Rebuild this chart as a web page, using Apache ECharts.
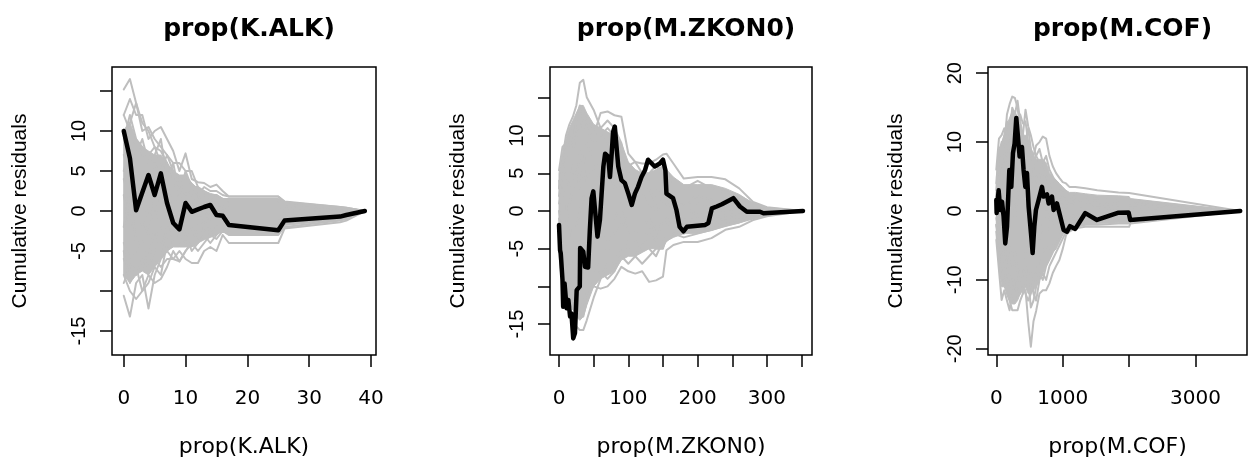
<!DOCTYPE html>
<html>
<head>
<meta charset="utf-8">
<script src="https://cdn.jsdelivr.net/npm/echarts@6/dist/echarts.min.js"></script>
<style>html,body{margin:0;padding:0;background:#fff;}#c{width:1248px;height:467px;}</style>
</head>
<body>
<div id="c"></div>
<script>
// ---------- Panel 1: prop(K.ALK) ----------
const titleK = 'prop(K.ALK)';
const xK = [0,1,2,3,4,5,6,7,8,9,10,11,12,13,14,15,16,17,25,26,35,36,39];
const obsK = [10,6.6,0.1,2.3,4.5,2.0,4.7,1.0,-1.5,-2.3,1.0,-0.1,0.2,0.5,0.75,-0.5,-0.6,-1.75,-2.4,-1.2,-0.7,-0.5,0];
const coreUpK = [10,11,9,8,7.5,7,7,6,5,4.5,4.5,3.5,2.8,2.5,2.2,2,1.6,1.3,1.3,1,0.4,0.3,0];
const coreLoK = [-8,-9,-8,-7.5,-8,-7,-6,-5,-4.5,-4.5,-4.5,-4.5,-4,-3.6,-3.3,-3,-2.5,-3,-3,-1.8,-1.1,-0.9,0];
const simK = [
  [15.2,16.5,13.5,11,10,8,7.5,6,4,3,3,2,1.5,1,1,0.8,0.5,0.5,0.5,0.4,0.2,0.1,0],
  [12,14,12,12,9,10,10.5,9,7.5,5,7.2,4,3.6,3.5,3,3.3,2.5,1.8,1.8,1.2,0.5,0.4,0],
  [10,11,13.5,10,10.5,9,8,7,6,6,5,5,3,2.5,2,2,1.5,1.5,1.5,1,0.4,0.3,0],
  [9,12,9,8,7,8,6,5,5,4,4.5,3,2,3,2.5,2.5,2,1.8,1.8,1.1,0.5,0.4,0],
  [-10.6,-13.2,-9,-8,-12.2,-8,-6,-5,-4,-4,-3,-3,-2,-1.5,-1,-1,-0.8,-1,-1,-0.6,-0.4,-0.3,0],
  [-8,-10,-11,-10,-8,-9,-8.5,-7,-5,-6.3,-5,-4,-3,-2.5,-2,-2,-1.5,-1.8,-1.8,-1,-0.5,-0.4,0],
  [-6,-8,-6,-7,-5,-6,-7,-6,-6,-5,-6,-6.5,-6.5,-5,-4.5,-5,-3,-4,-4,-2.2,-1.4,-1.2,0],
  [-4,-6,-8,-6,-7,-5,-4,-5,-6,-6.3,-5,-4,-5,-4,-3,-3.5,-2.5,-3,-3,-2,-1.2,-1,0],
  [5,8,6,4,3,4,2,3,1,2,0,1,-1,0,-0.5,0,-0.5,0,0,0,0,0,0],
  [2,-2,3,5,2,0,3,1,-2,0,1,-1,-2,-1,0,-1,-1,-1,-1,-0.5,-0.3,-0.2,0],
  [-2,2,-4,-1,-3,1,-2,-3,0,-2,-1,0,1,0,-1,-0.5,0,0.5,0.5,0.3,0.2,0.1,0],
  [7,5,9,7,4,6,4,6,3,4,2,2,1,1.5,0,1,0.5,1,1,0.6,0.3,0.2,0],
  [-9,-7,-5,-3,-6,-2,-5,-2,-4,-3,-4,-2,-4,-2,-3,-2,-2,-2,-2,-1.5,-0.8,-0.6,0],
  [12,10,7,9,6,7,9,4,6,2,5,3,2,0,1,-1,0,-0.5,-0.5,-0.3,-0.2,-0.1,0],
  [-5,-9,-7,-10,-9,-7,-8,-4,-2,-1,-3,-5,-4,-3,-4,-3,-2,-2.5,-2.5,-1.5,-1,-0.8,0],
  [4,1,0,2,-1,3,5,7,5,3,2,3,3,2,1,2,1.5,1.3,1.3,0.8,0.4,0.3,0]
];
const xTicksK = [0,10,20,30,40];
const xLabelsK = [0,10,20,30,40];
const yTicksK = [-15,-10,-5,0,5,10,15];
const yLabelsK = [-15,-5,0,5,10];

// ---------- Panel 2: prop(M.ZKON0) ----------
const titleZ = 'prop(M.ZKON0)';
const xObsZ = [0,1.5,2.5,5,6,8,11,13.5,16,18,20.5,23,25.5,30,30.5,35,37.5,42,44.5,47,49.5,52,55.5,59,64,66.5,71,73.5,76,78,80.5,83,85.5,90,95,100,105,109.5,114,119,124,128.5,138,145.5,150,153.5,155,164.5,169.5,174,179.5,184.5,211,215.5,220.5,227.5,235,251.5,261,271,290,295,352];
const obsZ = [-1.85,-5.2,-5.6,-9.1,-12.7,-9.6,-12.9,-11.8,-14.0,-13.6,-16.9,-16.2,-10.5,-10.0,-4.9,-5.4,-7.4,-7.5,-2.5,1.7,2.6,2.4,-3.4,-1.2,5.9,7.6,7.2,4.5,7.6,10.5,11.2,8.5,5.9,4.1,3.7,2.3,0.8,2.3,3.2,4.5,5.4,6.8,5.9,6.3,6.8,5.4,2.3,1.7,0.1,-2.1,-2.7,-2.1,-1.85,-1.6,0.35,0.6,0.9,1.7,0.6,-0.1,-0.1,-0.3,0];
const xSimZ = [0,5,10,15,20,25,30,35,40,50,60,70,80,90,100,110,120,130,140,150,155,165,180,200,220,240,260,280,300,352];
const coreUpZ = [5,7.5,9.5,11,12,13,14,14,13,11.5,11,10.5,10,9,6.5,5.5,5,5,5.5,6,5.5,4.5,3.5,3.5,3.5,3,2.2,1,0.4,0];
const coreLoZ = [-5,-9,-10.5,-12,-13,-14,-14.5,-14,-12.5,-10,-9,-8.5,-8,-6.5,-6,-6,-5.5,-5,-5,-5,-4,-3.5,-3,-3,-2.6,-2,-1.6,-0.9,-0.5,0];
const simZ = [
  [3,7,10,11.5,12.5,14,17,17.4,15.1,13.4,11,9,8,6,5,4,3,3,2,2,1.5,1.5,1,1,0.8,0.6,0.4,0.2,0.1,0],
  [5.4,8.5,9,8,11,12,14,13,12,10,13,13.2,12.7,12.5,7.6,6.5,5,4,3,2.5,2,1.5,1.2,1,1,0.8,0.5,0.3,0.1,0],
  [2,5,7,9,8,10,11,12,11,9,10,11,10,8,6,6.5,6.3,6.3,6.8,7.5,7.6,6.3,4.3,4.5,4.5,4.2,3,1.2,0.5,0],
  [-5.4,-10,-11.5,-13,-14,-15.3,-15.8,-15.8,-14.5,-11.5,-9,-7,-6,-5,-4,-3,-3,-2.5,-2,-2,-1.5,-1.5,-1.2,-1,-0.8,-0.6,-0.4,-0.2,-0.1,0],
  [-3,-6,-9,-10,-12,-13,-14,-12,-11,-10,-10.3,-10,-9,-7.4,-8,-8.3,-8,-9.4,-9.2,-8.7,-5.2,-4.5,-4.1,-4.1,-3.6,-2.5,-2.1,-1.2,-0.7,0],
  [0,-3,-5,-7,-6,-9,-8,-10,-9,-8,-6,-5,-7,-6,-5,-6,-7,-6,-5,-5,-3,-3,-2.5,-2.5,-2,-1.5,-1.2,-0.8,-0.4,0],
  [1,3,1,-2,-4,-2,0,2,1,3,2,0,-1,1,-2,-3,-2,-1,-3,-2,-1,-1.5,-2,-1,-1.5,-1,-0.8,-0.5,-0.3,0],
  [-1,-4,-2,1,3,5,3,6,4,6,4,6,3,4,2,1,2,3,1,2,1,2,1,2,1.5,1,0.8,0.4,0.2,0],
  [4,2,5,3,6,4,8,6,9,7,6,4,5,3,4,2,3,1,0,1,0.5,1,0.5,-0.5,0.5,0,0.5,0.2,0,0],
  [-2,-7,-6,-9,-10,-8,-11,-9,-6,-4,-2,-4,-3,-1,-3,-4,-5,-3,-4,-1,-2,-1,-3,-2,-1,-1.5,-0.5,-0.6,-0.3,0],
  [3,6,8,10,9,12,13,11,12,10,11,12,11,9,5,4,5,5,6,5,5,3,3,4,3,2.5,2,1,0.4,0],
  [-4,-8,-10,-11,-13,-12,-13,-14,-12,-9,-8,-9,-8,-6,-7,-6,-4,-5,-6,-4,-4,-3,-3.5,-3,-2.5,-2,-1.5,-1,-0.5,0]
];
const xTicksZ = [0,50,100,150,200,250,300,350];
const xLabelsZ = [0,100,200,300];
const yTicksZ = [-15,-10,-5,0,5,10,15];
const yLabelsZ = [-15,-5,0,5,10];

// ---------- Panel 3: prop(M.COF) ----------
const titleC = 'prop(M.COF)';
const xObsC = [0,5,35,60,86,110,135,161,196,226,251,276,301,326,351,386,411,437,462,487,522,547,572,597,637,688,712,763,788,838,863,913,963,1014,1064,1110,1189,1340,1516,1841,1992,2017,3673];
const obsC = [1.6,-0.3,3.0,0.15,1.35,-0.8,-4.7,-2.3,5.95,3.5,8.4,9.8,13.5,10.8,7.9,9.3,5.95,3.5,5.5,0.6,-3.2,-6.1,-2.3,0.15,1.6,3.5,2.1,2.4,1.1,2.1,0.15,1.1,-0.8,-2.75,-3.0,-2.2,-2.6,-0.3,-1.3,-0.25,-0.2,-1.3,0];
const xSimC = [0,40,80,120,160,200,240,280,320,360,400,440,480,520,560,600,650,700,750,800,850,900,950,1000,1050,1100,1190,1340,1520,1840,2000,2020,3673];
const coreUpC = [5,9,10,11,12.5,13.5,14.5,14.5,13.5,12,11,11,10,9,8,7.5,7.5,7.5,7,5.5,5,4.5,4,3.5,3,2.7,2.7,2.5,2.3,2.2,2.1,1.8,0];
const coreLoC = [-4,-7.5,-11,-11,-12,-13,-13.5,-13.5,-13,-12,-11.5,-11,-12,-12,-11.5,-11,-10,-9,-8,-7,-6,-5.5,-4.5,-3.5,-2.8,-2.5,-2.2,-2,-1.8,-1.7,-1.7,-1.5,0];
const simC = [
  [2,6,10,9,14,15.5,16.6,16.4,15,12,11,14.7,12.3,11,9.3,8,7,6,5,4,3.5,3,3,2.5,2,2,1.5,1.5,1.2,1,1,0.8,0],
  [6,10.5,11,12,10,12,14,13,12,14,12.7,13,10,9,8,9.5,10,10.8,10.5,8,6.5,5.5,4.8,4.2,4,3.5,3.5,3.3,3,2.7,2.6,2.5,0],
  [-4.2,-8.6,-12.9,-11.5,-13,-14.4,-12,-10,-9,-8,-7,-6,-5,-5,-4,-4,-3.5,-3,-3,-2.5,-2,-2,-1.8,-1.5,-1.5,-1.2,-1,-1,-0.8,-0.8,-0.8,-0.6,0],
  [-2,-5,-9,-10,-12,-13,-14.4,-14.4,-14.4,-13,-12,-11.5,-16,-19.7,-16,-14.5,-12,-11.5,-11.5,-10.5,-9,-8,-7.1,-5.5,-3.5,-3,-2.5,-2.3,-2.3,-2.3,-2.3,-1.8,0],
  [0,-3,-6,-4,-8,-10,-9,-11,-12,-10,-12,-10,-11,-9,-12,-13,-10,-9,-10,-8,-7,-6,-5,-4,-3,-2.8,-2.3,-2,-2,-1.8,-1.8,-1.5,0],
  [1,4,2,5,3,7,5,8,6,4,6,8,5,6,4,5,3,4,2,3,1,2,1,1.5,0.5,1,0.8,0.5,0.5,0.3,0.3,0.2,0],
  [-1,-3,1,-2,2,0,3,-1,2,5,3,1,-2,0,-3,-1,-4,-2,0,-1,-2,-1,0,-0.5,-1,-1,-0.5,-0.8,-0.5,-0.4,-0.4,-0.3,0],
  [3,7,5,8,11,9,12,10,13,11,9,10,12,9,7,8,9,7,8,6,5,4,3.5,3,2.8,2.5,2,2,1.8,1.5,1.5,1.3,0],
  [-3,-6,-10,-8,-11,-9,-12,-13,-10,-12,-9,-8,-10,-14,-13,-11,-9,-10,-8,-7,-6,-5,-4,-3,-2,-2,-1.8,-1.5,-1.3,-1.2,-1.2,-1,0],
  [2,5,8,6,9,12,10,14,12,10,8,7,9,6,8,6,5,6,4,3,4,2,2,1.5,1.5,1.2,1.5,1,1,0.8,0.8,0.6,0],
  [-2,-4,-7,-9,-7,-5,-8,-6,-9,-11,-10,-12,-13,-12,-10,-9,-7,-6,-5,-6,-5,-4,-3,-2.5,-2,-1.8,-1.5,-1.3,-1.2,-1,-1,-0.9,0],
  [4,8,9,11,13,11,15,14,16,13,11,9,8,7,6,5,4,5,3,3.5,2,2.5,1.5,2,1,1.5,1,1,0.8,0.5,0.5,0.4,0]
];
const xTicksC = [0,1000,2000,3000];
const xLabelsC = [0,1000,3000];
const yTicksC = [-20,-10,0,10,20];
const yLabelsC = [-20,-10,0,10,20];

// ---------- layout ----------
const panels = [
  {title:titleK, grid:{left:112,top:67,width:264,height:288}, xr:[-1.9,40.8], yr:[-18,18],
   xs:xK, core:[coreUpK,coreLoK], sims:simK, ox:xK, oy:obsK, xt:xTicksK, xl:xLabelsK, yt:yTicksK, yl:yLabelsK},
  {title:titleZ, grid:{left:550,top:67,width:262,height:288}, xr:[-13,365], yr:[-19.1,19.1],
   xs:xSimZ, core:[coreUpZ,coreLoZ], sims:simZ, ox:xObsZ, oy:obsZ, xt:xTicksZ, xl:xLabelsZ, yt:yTicksZ, yl:yLabelsZ},
  {title:titleC, grid:{left:988,top:67,width:259,height:288}, xr:[-125,3775], yr:[-20.9,20.9],
   xs:xSimC, core:[coreUpC,coreLoC], sims:simC, ox:xObsC, oy:obsC, xt:xTicksC, xl:xLabelsC, yt:yTicksC, yl:yLabelsC}
];

const GRAY = '#bebebe';
const plain = v => String(v);
const option = {animation:false, backgroundColor:'#fff', title:[], grid:[], xAxis:[], yAxis:[], series:[]};

panels.forEach((p, i) => {
  const cx = p.grid.left + p.grid.width / 2;
  option.title.push({text:p.title, left:cx, top:12, textAlign:'center',
    textStyle:{fontFamily:'DejaVu Sans', fontWeight:'bold', fontSize:25, color:'#000'}});
  option.grid.push(Object.assign({show:true, borderColor:'#000', borderWidth:1.5, backgroundColor:'transparent'}, p.grid));
  option.xAxis.push({gridIndex:i, type:'value', min:p.xr[0], max:p.xr[1],
    axisLine:{show:false, onZero:false}, splitLine:{show:false},
    axisTick:{show:true, inside:false, length:12, customValues:p.xt, lineStyle:{color:'#000', width:1.5}},
    axisLabel:{customValues:p.xl, formatter:plain, margin:34, color:'#000', fontFamily:'DejaVu Sans', fontSize:20},
    name:p.title, nameLocation:'middle', nameGap:81,
    nameTextStyle:{fontFamily:'DejaVu Sans', fontSize:22, color:'#000'}});
  option.yAxis.push({gridIndex:i, type:'value', min:p.yr[0], max:p.yr[1],
    axisLine:{show:false, onZero:false}, splitLine:{show:false},
    axisTick:{show:true, inside:false, length:12, customValues:p.yt, lineStyle:{color:'#000', width:1.5}},
    axisLabel:{customValues:p.yl, formatter:plain, rotate:90, margin:23, color:'#000', fontFamily:'Liberation Sans', fontSize:20},
    name:'Cumulative residuals', nameLocation:'middle', nameGap:81, nameRotate:90,
    nameTextStyle:{fontFamily:'Liberation Sans', fontSize:21, color:'#000'}});
  const xs = p.xs, up = p.core[0], lo = p.core[1];
  option.series.push({type:'custom', xAxisIndex:i, yAxisIndex:i, silent:true, z:1,
    data:[[xs[0], up[0]]],
    renderItem:function(params, api){
      const pts = [];
      for (let j = 0; j < xs.length; j++) pts.push(api.coord([xs[j], up[j]]));
      for (let j = xs.length - 1; j >= 0; j--) pts.push(api.coord([xs[j], lo[j]]));
      return {type:'polygon', shape:{points:pts}, style:{fill:GRAY, stroke:GRAY, lineWidth:1}};
    }});
  p.sims.forEach(s => {
    option.series.push({type:'line', xAxisIndex:i, yAxisIndex:i, silent:true, z:2,
      symbol:'none', showSymbol:false,
      data:xs.map((x, j) => [x, s[j]]),
      lineStyle:{color:GRAY, width:2, join:'round', cap:'round'}});
  });
  option.series.push({type:'line', xAxisIndex:i, yAxisIndex:i, silent:true, z:5,
    symbol:'none', showSymbol:false,
    data:p.ox.map((x, j) => [x, p.oy[j]]),
    lineStyle:{color:'#000', width:4.5, join:'round', cap:'round'}});
});

const chart = echarts.init(document.getElementById('c'), null, {renderer:'canvas'});
chart.setOption(option);
</script>
</body>
</html>
